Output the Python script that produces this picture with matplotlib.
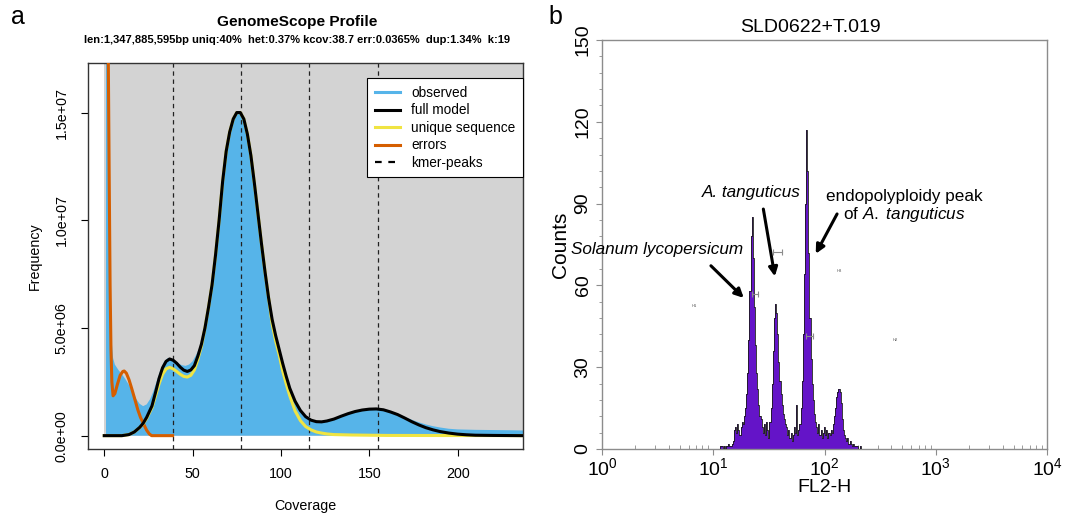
import numpy as np
import matplotlib
matplotlib.use('Agg')
import matplotlib.pyplot as plt
from matplotlib.lines import Line2D
from matplotlib.patches import Rectangle

plt.rcParams['font.family'] = ['Liberation Sans', 'DejaVu Sans']
plt.rcParams['mathtext.fontset'] = 'custom'
plt.rcParams['mathtext.rm'] = 'Liberation Sans'
plt.rcParams['mathtext.it'] = 'Liberation Sans:italic'
plt.rcParams['mathtext.bf'] = 'Liberation Sans:bold'
plt.rcParams['mathtext.default'] = 'regular'

# ---------------- panel a : GenomeScope k-mer profile ----------------
# observed k-mer histogram (coverage, frequency in millions)
obs_cov = [1, 2, 3, 4, 5, 6, 8, 10, 12, 14, 16, 18, 20, 22, 24, 26, 28, 30, 32, 34,
           36, 38, 40, 42, 44, 46, 48, 50, 52, 54, 56, 58, 60, 62, 64, 66, 68, 70,
           72, 74, 76, 78, 80, 82, 84, 86, 88, 90, 92, 94, 96, 98, 100, 102, 104,
           106, 108, 111, 114, 117, 120, 123, 126, 130, 134, 138, 142, 146, 150,
           154, 158, 162, 166, 170, 174, 178, 182, 186, 190, 195, 200, 210, 220,
           230, 237]
obs_freq = [60, 22, 8.5, 4.6, 3.6, 3.3, 3.05, 2.85, 2.62, 2.35, 2.05, 1.72, 1.48,
            1.37, 1.45, 1.7, 2.1, 2.6, 3.1, 3.45, 3.6, 3.58, 3.48, 3.35, 3.27, 3.24,
            3.3, 3.45, 3.75, 4.1, 4.7, 5.5, 6.5, 7.7, 9.2, 10.9, 12.5, 13.7, 14.5,
            14.95, 15.0, 14.85, 14.4, 13.5, 12.4, 11.0, 9.6, 8.2, 7.0, 5.85, 4.95,
            4.25, 3.7, 3.0, 2.45, 1.95, 1.6, 1.17, 0.88, 0.72, 0.66, 0.65, 0.69,
            0.78, 0.9, 1.02, 1.12, 1.19, 1.23, 1.24, 1.2, 1.12, 1.0, 0.87, 0.74,
            0.62, 0.52, 0.44, 0.38, 0.32, 0.29, 0.27, 0.26, 0.25, 0.24]

# full model
full_cov = [0, 10, 14, 17, 20, 22, 24, 27, 29, 31, 33, 35, 37, 39, 41, 43, 45, 47,
            49, 51, 53, 55, 57, 59, 61, 63, 65, 67, 69, 71, 73, 75, 77, 79, 81, 83,
            85, 87, 89, 91, 93, 95, 97, 99, 101, 103, 105, 108, 111, 114, 117, 120,
            123, 126, 130, 134, 138, 142, 146, 150, 154, 158, 162, 166, 170, 174,
            178, 182, 186, 190, 195, 200, 205, 210, 220, 237]
full_freq = [0, 0, 0.05, 0.17, 0.38, 0.57, 0.85, 1.38, 2.0, 2.65, 3.15, 3.45, 3.56,
             3.5, 3.36, 3.18, 3.04, 2.98, 3.05, 3.25, 3.7, 4.25, 5.0, 5.95, 7.0, 8.4,
             10.0, 11.8, 13.2, 14.1, 14.7, 15.0, 15.0, 14.7, 14.0, 13.0, 11.7, 10.3,
             8.9, 7.6, 6.4, 5.4, 4.65, 4.0, 3.35, 2.75, 2.2, 1.6, 1.17, 0.88, 0.72,
             0.65, 0.64, 0.68, 0.77, 0.9, 1.02, 1.12, 1.19, 1.23, 1.24, 1.2, 1.1,
             0.98, 0.82, 0.65, 0.5, 0.37, 0.27, 0.19, 0.12, 0.07, 0.04, 0.02, 0.01, 0]

# unique sequence
uniq_cov = [0, 10, 14, 17, 20, 22, 24, 27, 29, 31, 33, 35, 37, 39, 41, 43, 45, 47,
            49, 51, 53, 55, 57, 59, 61, 63, 65, 67, 69, 71, 73, 75, 77, 79, 81, 83,
            85, 87, 89, 91, 93, 95, 97, 99, 101, 103, 105, 108, 111, 114, 117, 120,
            123, 126, 130, 140, 160, 237]
uniq_freq = [0, 0, 0.05, 0.17, 0.37, 0.55, 0.8, 1.3, 1.85, 2.4, 2.85, 3.1, 3.17,
             3.1, 2.98, 2.85, 2.75, 2.72, 2.8, 3.05, 3.55, 4.15, 5.0, 5.95, 7.0,
             8.4, 10.0, 11.8, 13.2, 14.1, 14.7, 15.0, 15.0, 14.7, 14.0, 13.0, 11.7,
             10.3, 8.9, 7.6, 6.4, 5.2, 4.4, 3.75, 3.0, 2.4, 1.85, 1.15, 0.7, 0.42,
             0.27, 0.17, 0.12, 0.08, 0.05, 0.03, 0.01, 0]

# errors
err_cov = [2.3, 2.8, 3.3, 3.8, 4.3, 5.0, 6.0, 7.5, 9.0, 10.5, 11.3, 12.5, 14.0, 15.5,
           17.4, 19.0, 20.5, 22.1, 24.0, 25.5, 26.8, 38.7]
err_freq = [17.3, 12, 7, 4, 2.5, 1.85, 1.95, 2.4, 2.8, 2.98, 3.0, 2.9, 2.6, 2.2,
            1.66, 1.2, 0.85, 0.57, 0.25, 0.08, 0, 0]

kmer_peaks = [38.7, 77.4, 116.1, 154.8]
a_yticks = [0, 5e6, 1e7, 1.5e7]
a_yticklabels = ['0.0e+00', '5.0e+06', '1.0e+07', '1.5e+07']
a_xticks = [0, 50, 100, 150, 200]

# ---------------- panel b : flow cytometry histogram ----------------
# counts per channel, channels start at log10(FL2-H) = 1.05, step 0.01
counts = [0, 0, 1, 1, 0, 1, 0, 1, 1, 2, 1, 1, 2,
          3, 7, 8, 6, 9, 7, 5, 8, 10, 9, 12,
          15, 20, 28, 40, 58, 78, 85, 70, 52, 38, 28, 22, 16, 12, 11, 8,
          6, 9, 5, 10, 7, 4, 10,
          15, 24, 36, 48, 53, 50, 42, 32, 25, 20, 16, 13, 11, 9, 8,
          5, 7, 4, 6, 3, 5, 8, 6, 16, 5, 7, 9, 15,
          25, 42, 64, 90, 117, 102, 72, 48, 33, 24, 18, 13, 10,
          8, 6, 9, 5, 7, 4, 6, 8, 5, 7, 4, 6, 5, 7, 6,
          9, 12, 15, 19, 21, 22, 21, 17, 11, 7, 5, 4, 3, 4, 2, 3, 2, 1, 2, 1, 1, 1,
          1, 0, 1, 0]
chan_start = 1.05
chan_step = 0.01

# gates (FL2-H range and height in counts)
gate_lo = [22.5, 34.5, 68.2]
gate_hi = [25.4, 41.3, 78.7]
gate_y = [56.8, 72.2, 41.3]
gate_names = ['H1', 'H3', 'H2']
gate_name_x = [6.8, 136.5, 428.5]
gate_name_y = [52.5, 65.1, 40.1]

# ---------------- figure ----------------
fig = plt.figure(figsize=(10.83, 5.17), dpi=100)

# panel a
axa = fig.add_axes([88 / 1083, 68 / 517, 435 / 1083, 386 / 517])
xmin, xmax = -9.2, 237
ymin, ymax = -0.62e6, 1.73e7
axa.set_xlim(xmin, xmax)
axa.set_ylim(ymin, ymax)
axa.add_patch(Rectangle((0, 0), xmax, ymax, facecolor='#D3D3D3', edgecolor='none', zorder=0))

M = 1e6
axa.fill_between(obs_cov, 0, np.array(obs_freq) * M, color='#56B4E9', lw=0, zorder=1)
for p in kmer_peaks:
    axa.axvline(p, color='#222222', lw=0.9, ls=(0, (3.5, 3)), zorder=2)
axa.plot(err_cov, np.array(err_freq) * M, color='#D55E00', lw=2.2, zorder=3)
axa.plot(uniq_cov, np.array(uniq_freq) * M, color='#F0E442', lw=2.2, zorder=4)
axa.plot(full_cov, np.array(full_freq) * M, color='black', lw=2.2, zorder=5)

axa.set_xticks(a_xticks)
axa.set_yticks(a_yticks)
axa.set_yticklabels(a_yticklabels, rotation=90, va='center')
axa.tick_params(direction='out', length=5, width=0.8, labelsize=10.3, pad=8)
axa.tick_params(axis='y', pad=9)
for s in axa.spines.values():
    s.set_color('#333333')
    s.set_linewidth(1)
axa.set_xlabel('Coverage', fontsize=10.3, labelpad=13)
axa.set_ylabel('Frequency', fontsize=10.3, labelpad=9)

handles = [Line2D([], [], color='#56B4E9', lw=2.2),
           Line2D([], [], color='black', lw=2.2),
           Line2D([], [], color='#F0E442', lw=2.2),
           Line2D([], [], color='#D55E00', lw=2.2),
           Line2D([], [], color='black', lw=1.6, ls=(0, (3, 3)))]
leg = axa.legend(handles, ['observed', 'full model', 'unique sequence', 'errors', 'kmer-peaks'],
                 loc='upper right', bbox_to_anchor=(1.0, 1 - 15.3 / 386), borderaxespad=0,
                 fontsize=9.8, fancybox=False, framealpha=1, edgecolor='black',
                 handlelength=1.9, handletextpad=0.8, labelspacing=0.26, borderpad=0.55)
leg.get_frame().set_linewidth(0.8)

fig.text(297 / 1083, 1 - 22 / 517, 'GenomeScope Profile', ha='center', va='center',
         fontsize=11.1, fontweight='bold')
fig.text(297 / 1083, 1 - 40 / 517,
         'len:1,347,885,595bp uniq:40%  het:0.37% kcov:38.7 err:0.0365%  dup:1.34%  k:19',
         ha='center', va='center', fontsize=8.05, fontweight='bold')
fig.text(18 / 1083, 1 - 17 / 517, 'a', ha='center', va='center', fontsize=18)

# panel b
axb = fig.add_axes([602 / 1083, 68 / 517, 445 / 1083, 409 / 517])
chan_log = chan_start + chan_step * np.arange(len(counts))
fl2 = 10 ** chan_log
axb.fill_between(fl2, 0, counts, step='mid', color='#6414C8', lw=0, zorder=2)
axb.step(fl2, counts, where='mid', color='#1a1a1a', lw=0.6, zorder=3)
axb.set_xscale('log')
axb.set_xlim(1, 1e4)
axb.set_ylim(0, 150)
axb.set_yticks([0, 30, 60, 90, 120, 150])
axb.set_yticks(np.arange(0, 151, 6), minor=True)
for s in axb.spines.values():
    s.set_color('#8c8c8c')
    s.set_linewidth(1)
axb.tick_params(which='major', direction='out', length=4, color='#8c8c8c', labelsize=14)
axb.tick_params(which='minor', direction='out', length=2, color='#8c8c8c')
axb.tick_params(axis='x', which='minor', direction='in', length=3)
axb.tick_params(axis='x', pad=2, labelsize=14)
for lab in axb.get_yticklabels():
    lab.set_rotation(90)
    lab.set_va('center')

for lo, hi, yy in zip(gate_lo, gate_hi, gate_y):
    axb.plot([lo, hi], [yy, yy], color='#8c8c8c', lw=0.8, marker='|', ms=5, mew=0.8, zorder=4)
for nm, gx, gy in zip(gate_names, gate_name_x, gate_name_y):
    axb.text(gx, gy, nm, fontsize=3, color='#555555', ha='center', va='center')

arrow_kw = dict(arrowstyle='-|>', lw=2.2, color='black', mutation_scale=13, shrinkA=0, shrinkB=0)
axb.annotate('', xy=(18.8, 55.4), xytext=(9.53, 67.2), arrowprops=arrow_kw, zorder=5)
axb.annotate('', xy=(35.8, 63.3), xytext=(28.2, 88.0), arrowprops=arrow_kw, zorder=5)
axb.annotate('', xy=(83.4, 71.6), xytext=(129.7, 86.2), arrowprops=arrow_kw, zorder=5)
axb.text(3.14, 73.1, 'Solanum lycopersicum', style='italic', fontsize=12.3, ha='center', va='center')
axb.text(22.0, 93.9, 'A. tanguticus', style='italic', fontsize=12.3, ha='center', va='center')
axb.text(525, 92.6, 'endopolyploidy peak', fontsize=12.3, ha='center', va='center')
axb.text(525, 85.9, r'of $\mathit{A.\ tanguticus}$', fontsize=12.3, ha='center', va='center')

axb.set_xlabel('FL2-H', fontsize=14, labelpad=0)
axb.set_ylabel('Counts', fontsize=15, labelpad=3)
fig.text(810 / 1083, 1 - 28 / 517, 'SLD0622+T.019', ha='center', va='center', fontsize=14)
fig.text(555 / 1083, 1 - 17 / 517, 'b', ha='center', va='center', fontsize=18)

fig.savefig('out.png', dpi=100)
